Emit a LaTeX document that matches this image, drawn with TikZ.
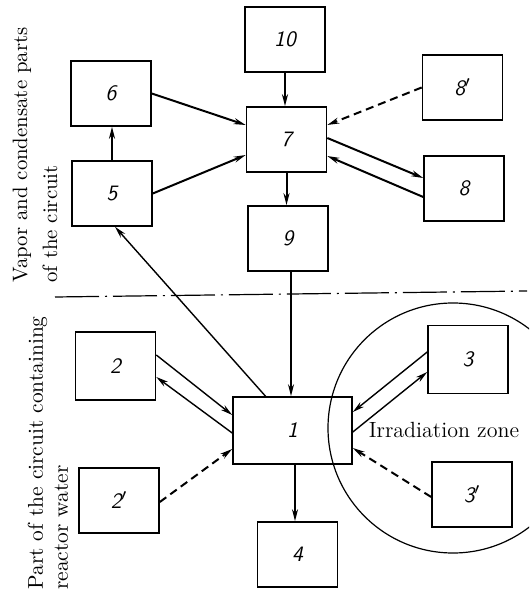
\documentclass[tikz,border=0pt]{standalone}
\usetikzlibrary{arrows.meta, calc}

\tikzset{
  blk/.style={draw, thick, minimum width=40pt, minimum height=32.5pt, inner sep=0pt, font=\fontsize{11}{13}\selectfont\sffamily\itshape},
  flow/.style={line width=1pt, -{Stealth[length=6pt,width=3pt]}},
  thinflow/.style={line width=0.7pt, -{Stealth[length=6pt,width=3pt]}},
  aux/.style={flow, dash pattern=on 4pt off 2.5pt},
}

\begin{document}
\begin{tikzpicture}[x=0.5pt, y=-0.5pt]
    \useasboundingbox (0,0) rectangle (529,597);

    % vapor and condensate part
    \node[blk] (n10) at (285,39.5) {10};
    \node[blk] (n6)  at (111,93.5) {6};
    \node[blk] (n5)  at (112,193.5) {5};
    \node[blk] (n7)  at (286.5,139.5) {7};
    \node[blk] (n9)  at (288,238.5) {9};
    \node[blk] (n8p) at (462.5,87.5) {8$'$};
    \node[blk] (n8)  at (464,188.5) {8};

    % reactor water part
    \node[blk, minimum height=34pt] (n2)  at (115.5,366) {2};
    \node[blk] (n2p) at (119,500.5) {2$'$};
    \node[blk, minimum width=59.5pt, minimum height=33.5pt] (n1) at (292.5,430.5) {1};
    \node[blk] (n4)  at (297.5,554.5) {4};
    \node[blk, minimum height=34pt] (n3)  at (468,359.5) {3};
    \node[blk] (n3p) at (472,494.5) {3$'$};

    % side captions
    \node[rotate=90, align=left, font=\fontsize{10.4}{13}\selectfont] (vap) at (35,155) {Vapor and condensate parts\\[2pt]of the circuit};
    \node[rotate=90, align=left, font=\fontsize{10.7}{12.5}\selectfont] (rw) at (48,453) {Part of the circuit containing\\reactor water};
    \node[font=\fontsize{11}{13}\selectfont] (zone) at (444,430) {Irradiation zone};

    % dividing line
    \coordinate (divl) at (55,297);
    \coordinate (divr) at (527,291);
    \draw[semithick, dash pattern=on 22pt off 3pt on 1pt off 3pt] (divl) -- (divr);

    % irradiation zone
    \coordinate (zc) at (453,428);
    \begin{scope}
        \clip (0,0) rectangle (529,597);
        \draw[semithick] (zc) circle[radius=62.5pt];
    \end{scope}

    % upper connectors
    \draw[flow] (n10.south) -- (n10.south |- n7.north);
    \draw[flow] (n5.north) -- (n5.north |- n6.south);
    \draw[flow] (n6.east) -- ([shift={(0,-14.5)}]n7.west);
    \draw[flow] (n5.east) -- ([shift={(0,15.5)}]n7.west);
    \draw[aux] (n8p.west) -- ([shift={(0,-14.5)}]n7.east);
    \draw[flow] ([shift={(0,-1.5)}]n7.east) -- ([shift={(0,-10.5)}]n8.west);
    \draw[flow] ([shift={(0,8.5)}]n8.west) -- ([shift={(0,16.5)}]n7.east);
    \draw[flow] (n7.south) -- (n7.south |- n9.north);

    % lower connectors
    \draw[thinflow] ([shift={(3,0)}]n9.south) -- ([shift={(3,0)}]n9.south |- n1.north);
    \draw[thinflow] ([shift={(-27,0)}]n1.north) -- ([shift={(3,0)}]n5.south);
    \draw[thinflow] ([shift={(0,-11)}]n2.east) -- ([shift={(0,-15.5)}]n1.west);
    \draw[thinflow] ([shift={(0,2.5)}]n1.west) -- ([shift={(0,11)}]n2.east);
    \draw[aux] ([shift={(0,1.5)}]n2p.east) -- ([shift={(0,18.5)}]n1.west);
    \draw[thinflow] ([shift={(2.5,0)}]n1.south) -- ([shift={(2.5,0)}]n1.south |- n4.north);
    \draw[thinflow] ([shift={(0,-7.5)}]n3.west) -- ([shift={(0,-18.5)}]n1.east);
    \draw[thinflow] ([shift={(0,1.5)}]n1.east) -- ([shift={(0,12.5)}]n3.west);
    \draw[aux] ([shift={(0,2.5)}]n3p.west) -- ([shift={(0,17.5)}]n1.east);
\end{tikzpicture}
\end{document}
